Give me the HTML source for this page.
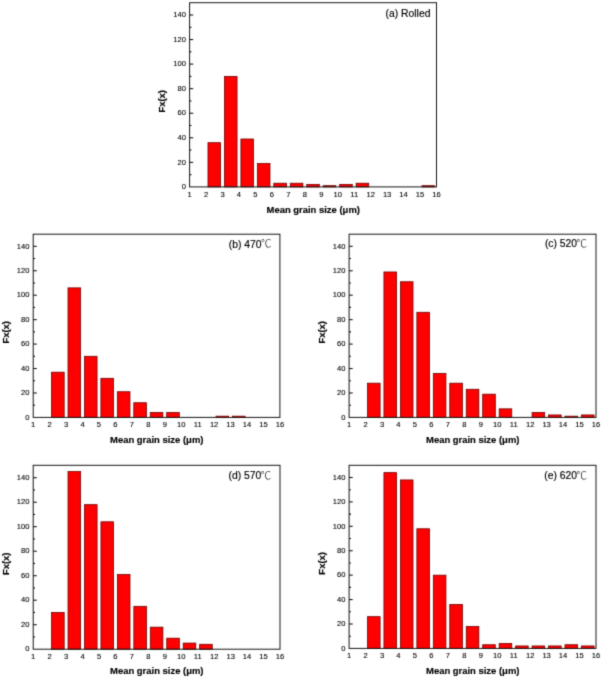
<!DOCTYPE html>
<html><head><meta charset="utf-8"><title>Grain size distributions</title>
<style>
html,body{margin:0;padding:0;background:#fff;}
svg{display:block;}
text{font-family:"Liberation Sans","Noto Sans CJK SC",sans-serif;fill:#000000;}
.t{font-size:7.6px;stroke:#000;stroke-width:0.1px;}
.b{font-size:9.45px;font-weight:bold;stroke:#000;stroke-width:0.15px;}
.l{font-size:10.35px;stroke:#000;stroke-width:0.16px;}
.c{font-family:"Noto Sans CJK SC",sans-serif;font-weight:300;font-size:10.5px;fill:#000;stroke:none;}
</style></head><body>
<svg width="602" height="679" viewBox="0 0 602 679">
<defs><filter id="soft" x="0" y="0" width="602" height="679" filterUnits="userSpaceOnUse" color-interpolation-filters="sRGB"><feConvolveMatrix order="3" kernelMatrix="1 5 1 5 25 5 1 5 1" divisor="49" edgeMode="duplicate" preserveAlpha="true"/></filter></defs>
<rect width="602" height="679" fill="#ffffff"/>
<g filter="url(#soft)">
<rect width="602" height="679" fill="#ffffff"/>
<g><rect x="207.99" y="142.69" width="12.60" height="44.21" fill="#ff0000" stroke="#700000" stroke-width="0.8"/>
<rect x="224.45" y="76.38" width="12.60" height="110.52" fill="#ff0000" stroke="#700000" stroke-width="0.8"/>
<rect x="240.91" y="139.01" width="12.60" height="47.89" fill="#ff0000" stroke="#700000" stroke-width="0.8"/>
<rect x="257.37" y="163.57" width="12.60" height="23.33" fill="#ff0000" stroke="#700000" stroke-width="0.8"/>
<rect x="273.83" y="183.22" width="12.60" height="3.68" fill="#ff0000" stroke="#700000" stroke-width="0.8"/>
<rect x="290.29" y="183.22" width="12.60" height="3.68" fill="#ff0000" stroke="#700000" stroke-width="0.8"/>
<rect x="306.75" y="184.44" width="12.60" height="2.46" fill="#ff0000" stroke="#700000" stroke-width="0.8"/>
<rect x="323.21" y="185.67" width="12.60" height="1.23" fill="#ff0000" stroke="#700000" stroke-width="0.8"/>
<rect x="339.67" y="184.44" width="12.60" height="2.46" fill="#ff0000" stroke="#700000" stroke-width="0.8"/>
<rect x="356.13" y="183.22" width="12.60" height="3.68" fill="#ff0000" stroke="#700000" stroke-width="0.8"/>
<rect x="421.97" y="185.67" width="12.60" height="1.23" fill="#ff0000" stroke="#700000" stroke-width="0.8"/>
<rect x="189.60" y="2.70" width="246.90" height="184.20" fill="none" stroke="#161616" stroke-width="1"/>
<line x1="189.60" y1="174.62" x2="191.50" y2="174.62" stroke="#161616" stroke-width="1.1"/>
<line x1="189.60" y1="162.34" x2="193.20" y2="162.34" stroke="#161616" stroke-width="1.1"/>
<line x1="189.60" y1="150.06" x2="191.50" y2="150.06" stroke="#161616" stroke-width="1.1"/>
<line x1="189.60" y1="137.78" x2="193.20" y2="137.78" stroke="#161616" stroke-width="1.1"/>
<line x1="189.60" y1="125.50" x2="191.50" y2="125.50" stroke="#161616" stroke-width="1.1"/>
<line x1="189.60" y1="113.22" x2="193.20" y2="113.22" stroke="#161616" stroke-width="1.1"/>
<line x1="189.60" y1="100.94" x2="191.50" y2="100.94" stroke="#161616" stroke-width="1.1"/>
<line x1="189.60" y1="88.66" x2="193.20" y2="88.66" stroke="#161616" stroke-width="1.1"/>
<line x1="189.60" y1="76.38" x2="191.50" y2="76.38" stroke="#161616" stroke-width="1.1"/>
<line x1="189.60" y1="64.10" x2="193.20" y2="64.10" stroke="#161616" stroke-width="1.1"/>
<line x1="189.60" y1="51.82" x2="191.50" y2="51.82" stroke="#161616" stroke-width="1.1"/>
<line x1="189.60" y1="39.54" x2="193.20" y2="39.54" stroke="#161616" stroke-width="1.1"/>
<line x1="189.60" y1="27.26" x2="191.50" y2="27.26" stroke="#161616" stroke-width="1.1"/>
<line x1="189.60" y1="14.98" x2="193.20" y2="14.98" stroke="#161616" stroke-width="1.1"/>
<text x="185.90" y="189.10" text-anchor="end" class="t">0</text>
<text x="185.90" y="164.54" text-anchor="end" class="t">20</text>
<text x="185.90" y="139.98" text-anchor="end" class="t">40</text>
<text x="185.90" y="115.42" text-anchor="end" class="t">60</text>
<text x="185.90" y="90.86" text-anchor="end" class="t">80</text>
<text x="185.90" y="66.30" text-anchor="end" class="t">100</text>
<text x="185.90" y="41.74" text-anchor="end" class="t">120</text>
<text x="185.90" y="17.18" text-anchor="end" class="t">140</text>
<text x="189.60" y="196.80" text-anchor="middle" class="t">1</text>
<text x="206.06" y="196.80" text-anchor="middle" class="t">2</text>
<text x="222.52" y="196.80" text-anchor="middle" class="t">3</text>
<text x="238.98" y="196.80" text-anchor="middle" class="t">4</text>
<text x="255.44" y="196.80" text-anchor="middle" class="t">5</text>
<text x="271.90" y="196.80" text-anchor="middle" class="t">6</text>
<text x="288.36" y="196.80" text-anchor="middle" class="t">7</text>
<text x="304.82" y="196.80" text-anchor="middle" class="t">8</text>
<text x="321.28" y="196.80" text-anchor="middle" class="t">9</text>
<text x="337.74" y="196.80" text-anchor="middle" class="t">10</text>
<text x="354.20" y="196.80" text-anchor="middle" class="t">11</text>
<text x="370.66" y="196.80" text-anchor="middle" class="t">12</text>
<text x="387.12" y="196.80" text-anchor="middle" class="t">13</text>
<text x="403.58" y="196.80" text-anchor="middle" class="t">14</text>
<text x="420.04" y="196.80" text-anchor="middle" class="t">15</text>
<text x="436.50" y="196.80" text-anchor="middle" class="t">16</text>
<text x="313.25" y="212.50" text-anchor="middle" class="b">Mean grain size (μm)</text>
<text transform="translate(165.30,101.30) rotate(-90)" text-anchor="middle" class="b">Fx(x)</text>
<text x="430.40" y="16.90" text-anchor="end" class="l">(a) Rolled</text></g>
<g><rect x="51.57" y="372.19" width="12.60" height="45.21" fill="#ff0000" stroke="#700000" stroke-width="0.8"/>
<rect x="68.02" y="287.87" width="12.60" height="129.53" fill="#ff0000" stroke="#700000" stroke-width="0.8"/>
<rect x="84.46" y="356.30" width="12.60" height="61.10" fill="#ff0000" stroke="#700000" stroke-width="0.8"/>
<rect x="100.91" y="378.30" width="12.60" height="39.10" fill="#ff0000" stroke="#700000" stroke-width="0.8"/>
<rect x="117.36" y="391.74" width="12.60" height="25.66" fill="#ff0000" stroke="#700000" stroke-width="0.8"/>
<rect x="133.80" y="402.74" width="12.60" height="14.66" fill="#ff0000" stroke="#700000" stroke-width="0.8"/>
<rect x="150.25" y="412.51" width="12.60" height="4.89" fill="#ff0000" stroke="#700000" stroke-width="0.8"/>
<rect x="166.70" y="412.51" width="12.60" height="4.89" fill="#ff0000" stroke="#700000" stroke-width="0.8"/>
<rect x="216.04" y="416.18" width="12.60" height="1.22" fill="#ff0000" stroke="#700000" stroke-width="0.8"/>
<rect x="232.48" y="416.18" width="12.60" height="1.22" fill="#ff0000" stroke="#700000" stroke-width="0.8"/>
<rect x="33.20" y="234.20" width="246.70" height="183.20" fill="none" stroke="#161616" stroke-width="1"/>
<line x1="33.20" y1="405.18" x2="35.10" y2="405.18" stroke="#161616" stroke-width="1.1"/>
<line x1="33.20" y1="392.96" x2="36.80" y2="392.96" stroke="#161616" stroke-width="1.1"/>
<line x1="33.20" y1="380.74" x2="35.10" y2="380.74" stroke="#161616" stroke-width="1.1"/>
<line x1="33.20" y1="368.52" x2="36.80" y2="368.52" stroke="#161616" stroke-width="1.1"/>
<line x1="33.20" y1="356.30" x2="35.10" y2="356.30" stroke="#161616" stroke-width="1.1"/>
<line x1="33.20" y1="344.08" x2="36.80" y2="344.08" stroke="#161616" stroke-width="1.1"/>
<line x1="33.20" y1="331.86" x2="35.10" y2="331.86" stroke="#161616" stroke-width="1.1"/>
<line x1="33.20" y1="319.64" x2="36.80" y2="319.64" stroke="#161616" stroke-width="1.1"/>
<line x1="33.20" y1="307.42" x2="35.10" y2="307.42" stroke="#161616" stroke-width="1.1"/>
<line x1="33.20" y1="295.20" x2="36.80" y2="295.20" stroke="#161616" stroke-width="1.1"/>
<line x1="33.20" y1="282.98" x2="35.10" y2="282.98" stroke="#161616" stroke-width="1.1"/>
<line x1="33.20" y1="270.76" x2="36.80" y2="270.76" stroke="#161616" stroke-width="1.1"/>
<line x1="33.20" y1="258.54" x2="35.10" y2="258.54" stroke="#161616" stroke-width="1.1"/>
<line x1="33.20" y1="246.32" x2="36.80" y2="246.32" stroke="#161616" stroke-width="1.1"/>
<text x="29.50" y="419.60" text-anchor="end" class="t">0</text>
<text x="29.50" y="395.16" text-anchor="end" class="t">20</text>
<text x="29.50" y="370.72" text-anchor="end" class="t">40</text>
<text x="29.50" y="346.28" text-anchor="end" class="t">60</text>
<text x="29.50" y="321.84" text-anchor="end" class="t">80</text>
<text x="29.50" y="297.40" text-anchor="end" class="t">100</text>
<text x="29.50" y="272.96" text-anchor="end" class="t">120</text>
<text x="29.50" y="248.52" text-anchor="end" class="t">140</text>
<text x="33.20" y="427.30" text-anchor="middle" class="t">1</text>
<text x="49.65" y="427.30" text-anchor="middle" class="t">2</text>
<text x="66.09" y="427.30" text-anchor="middle" class="t">3</text>
<text x="82.54" y="427.30" text-anchor="middle" class="t">4</text>
<text x="98.99" y="427.30" text-anchor="middle" class="t">5</text>
<text x="115.43" y="427.30" text-anchor="middle" class="t">6</text>
<text x="131.88" y="427.30" text-anchor="middle" class="t">7</text>
<text x="148.33" y="427.30" text-anchor="middle" class="t">8</text>
<text x="164.77" y="427.30" text-anchor="middle" class="t">9</text>
<text x="181.22" y="427.30" text-anchor="middle" class="t">10</text>
<text x="197.67" y="427.30" text-anchor="middle" class="t">11</text>
<text x="214.11" y="427.30" text-anchor="middle" class="t">12</text>
<text x="230.56" y="427.30" text-anchor="middle" class="t">13</text>
<text x="247.01" y="427.30" text-anchor="middle" class="t">14</text>
<text x="263.45" y="427.30" text-anchor="middle" class="t">15</text>
<text x="279.90" y="427.30" text-anchor="middle" class="t">16</text>
<text x="156.75" y="443.00" text-anchor="middle" class="b">Mean grain size (μm)</text>
<text transform="translate(8.90,332.30) rotate(-90)" text-anchor="middle" class="b">Fx(x)</text>
<text x="271.50" y="247.50" text-anchor="end" class="l">(b) 470<tspan class="c" dx="-0.5" dy="-0.3">℃</tspan></text></g>
<g><rect x="367.49" y="383.18" width="12.60" height="34.22" fill="#ff0000" stroke="#700000" stroke-width="0.8"/>
<rect x="383.95" y="271.98" width="12.60" height="145.42" fill="#ff0000" stroke="#700000" stroke-width="0.8"/>
<rect x="400.41" y="281.76" width="12.60" height="135.64" fill="#ff0000" stroke="#700000" stroke-width="0.8"/>
<rect x="416.87" y="312.31" width="12.60" height="105.09" fill="#ff0000" stroke="#700000" stroke-width="0.8"/>
<rect x="433.33" y="373.41" width="12.60" height="43.99" fill="#ff0000" stroke="#700000" stroke-width="0.8"/>
<rect x="449.79" y="383.18" width="12.60" height="34.22" fill="#ff0000" stroke="#700000" stroke-width="0.8"/>
<rect x="466.25" y="389.29" width="12.60" height="28.11" fill="#ff0000" stroke="#700000" stroke-width="0.8"/>
<rect x="482.71" y="394.18" width="12.60" height="23.22" fill="#ff0000" stroke="#700000" stroke-width="0.8"/>
<rect x="499.17" y="408.85" width="12.60" height="8.55" fill="#ff0000" stroke="#700000" stroke-width="0.8"/>
<rect x="532.09" y="412.51" width="12.60" height="4.89" fill="#ff0000" stroke="#700000" stroke-width="0.8"/>
<rect x="548.55" y="414.96" width="12.60" height="2.44" fill="#ff0000" stroke="#700000" stroke-width="0.8"/>
<rect x="565.01" y="416.18" width="12.60" height="1.22" fill="#ff0000" stroke="#700000" stroke-width="0.8"/>
<rect x="581.47" y="414.96" width="12.60" height="2.44" fill="#ff0000" stroke="#700000" stroke-width="0.8"/>
<rect x="349.10" y="234.20" width="246.90" height="183.20" fill="none" stroke="#161616" stroke-width="1"/>
<line x1="349.10" y1="405.18" x2="351.00" y2="405.18" stroke="#161616" stroke-width="1.1"/>
<line x1="349.10" y1="392.96" x2="352.70" y2="392.96" stroke="#161616" stroke-width="1.1"/>
<line x1="349.10" y1="380.74" x2="351.00" y2="380.74" stroke="#161616" stroke-width="1.1"/>
<line x1="349.10" y1="368.52" x2="352.70" y2="368.52" stroke="#161616" stroke-width="1.1"/>
<line x1="349.10" y1="356.30" x2="351.00" y2="356.30" stroke="#161616" stroke-width="1.1"/>
<line x1="349.10" y1="344.08" x2="352.70" y2="344.08" stroke="#161616" stroke-width="1.1"/>
<line x1="349.10" y1="331.86" x2="351.00" y2="331.86" stroke="#161616" stroke-width="1.1"/>
<line x1="349.10" y1="319.64" x2="352.70" y2="319.64" stroke="#161616" stroke-width="1.1"/>
<line x1="349.10" y1="307.42" x2="351.00" y2="307.42" stroke="#161616" stroke-width="1.1"/>
<line x1="349.10" y1="295.20" x2="352.70" y2="295.20" stroke="#161616" stroke-width="1.1"/>
<line x1="349.10" y1="282.98" x2="351.00" y2="282.98" stroke="#161616" stroke-width="1.1"/>
<line x1="349.10" y1="270.76" x2="352.70" y2="270.76" stroke="#161616" stroke-width="1.1"/>
<line x1="349.10" y1="258.54" x2="351.00" y2="258.54" stroke="#161616" stroke-width="1.1"/>
<line x1="349.10" y1="246.32" x2="352.70" y2="246.32" stroke="#161616" stroke-width="1.1"/>
<text x="345.40" y="419.60" text-anchor="end" class="t">0</text>
<text x="345.40" y="395.16" text-anchor="end" class="t">20</text>
<text x="345.40" y="370.72" text-anchor="end" class="t">40</text>
<text x="345.40" y="346.28" text-anchor="end" class="t">60</text>
<text x="345.40" y="321.84" text-anchor="end" class="t">80</text>
<text x="345.40" y="297.40" text-anchor="end" class="t">100</text>
<text x="345.40" y="272.96" text-anchor="end" class="t">120</text>
<text x="345.40" y="248.52" text-anchor="end" class="t">140</text>
<text x="349.10" y="427.30" text-anchor="middle" class="t">1</text>
<text x="365.56" y="427.30" text-anchor="middle" class="t">2</text>
<text x="382.02" y="427.30" text-anchor="middle" class="t">3</text>
<text x="398.48" y="427.30" text-anchor="middle" class="t">4</text>
<text x="414.94" y="427.30" text-anchor="middle" class="t">5</text>
<text x="431.40" y="427.30" text-anchor="middle" class="t">6</text>
<text x="447.86" y="427.30" text-anchor="middle" class="t">7</text>
<text x="464.32" y="427.30" text-anchor="middle" class="t">8</text>
<text x="480.78" y="427.30" text-anchor="middle" class="t">9</text>
<text x="497.24" y="427.30" text-anchor="middle" class="t">10</text>
<text x="513.70" y="427.30" text-anchor="middle" class="t">11</text>
<text x="530.16" y="427.30" text-anchor="middle" class="t">12</text>
<text x="546.62" y="427.30" text-anchor="middle" class="t">13</text>
<text x="563.08" y="427.30" text-anchor="middle" class="t">14</text>
<text x="579.54" y="427.30" text-anchor="middle" class="t">15</text>
<text x="596.00" y="427.30" text-anchor="middle" class="t">16</text>
<text x="472.75" y="443.00" text-anchor="middle" class="b">Mean grain size (μm)</text>
<text transform="translate(324.80,332.30) rotate(-90)" text-anchor="middle" class="b">Fx(x)</text>
<text x="587.10" y="247.30" text-anchor="end" class="l">(c) 520<tspan class="c" dx="-0.5" dy="-0.3">℃</tspan></text></g>
<g><rect x="51.58" y="612.45" width="12.60" height="36.75" fill="#ff0000" stroke="#700000" stroke-width="0.8"/>
<rect x="68.03" y="471.58" width="12.60" height="177.62" fill="#ff0000" stroke="#700000" stroke-width="0.8"/>
<rect x="84.49" y="504.65" width="12.60" height="144.55" fill="#ff0000" stroke="#700000" stroke-width="0.8"/>
<rect x="100.94" y="521.80" width="12.60" height="127.40" fill="#ff0000" stroke="#700000" stroke-width="0.8"/>
<rect x="117.39" y="574.48" width="12.60" height="74.73" fill="#ff0000" stroke="#700000" stroke-width="0.8"/>
<rect x="133.85" y="606.33" width="12.60" height="42.88" fill="#ff0000" stroke="#700000" stroke-width="0.8"/>
<rect x="150.30" y="627.15" width="12.60" height="22.05" fill="#ff0000" stroke="#700000" stroke-width="0.8"/>
<rect x="166.75" y="638.18" width="12.60" height="11.03" fill="#ff0000" stroke="#700000" stroke-width="0.8"/>
<rect x="183.21" y="643.08" width="12.60" height="6.12" fill="#ff0000" stroke="#700000" stroke-width="0.8"/>
<rect x="199.66" y="644.30" width="12.60" height="4.90" fill="#ff0000" stroke="#700000" stroke-width="0.8"/>
<rect x="33.20" y="465.30" width="246.80" height="183.90" fill="none" stroke="#161616" stroke-width="1"/>
<line x1="33.20" y1="636.95" x2="35.10" y2="636.95" stroke="#161616" stroke-width="1.1"/>
<line x1="33.20" y1="624.70" x2="36.80" y2="624.70" stroke="#161616" stroke-width="1.1"/>
<line x1="33.20" y1="612.45" x2="35.10" y2="612.45" stroke="#161616" stroke-width="1.1"/>
<line x1="33.20" y1="600.20" x2="36.80" y2="600.20" stroke="#161616" stroke-width="1.1"/>
<line x1="33.20" y1="587.95" x2="35.10" y2="587.95" stroke="#161616" stroke-width="1.1"/>
<line x1="33.20" y1="575.70" x2="36.80" y2="575.70" stroke="#161616" stroke-width="1.1"/>
<line x1="33.20" y1="563.45" x2="35.10" y2="563.45" stroke="#161616" stroke-width="1.1"/>
<line x1="33.20" y1="551.20" x2="36.80" y2="551.20" stroke="#161616" stroke-width="1.1"/>
<line x1="33.20" y1="538.95" x2="35.10" y2="538.95" stroke="#161616" stroke-width="1.1"/>
<line x1="33.20" y1="526.70" x2="36.80" y2="526.70" stroke="#161616" stroke-width="1.1"/>
<line x1="33.20" y1="514.45" x2="35.10" y2="514.45" stroke="#161616" stroke-width="1.1"/>
<line x1="33.20" y1="502.20" x2="36.80" y2="502.20" stroke="#161616" stroke-width="1.1"/>
<line x1="33.20" y1="489.95" x2="35.10" y2="489.95" stroke="#161616" stroke-width="1.1"/>
<line x1="33.20" y1="477.70" x2="36.80" y2="477.70" stroke="#161616" stroke-width="1.1"/>
<text x="29.50" y="651.40" text-anchor="end" class="t">0</text>
<text x="29.50" y="626.90" text-anchor="end" class="t">20</text>
<text x="29.50" y="602.40" text-anchor="end" class="t">40</text>
<text x="29.50" y="577.90" text-anchor="end" class="t">60</text>
<text x="29.50" y="553.40" text-anchor="end" class="t">80</text>
<text x="29.50" y="528.90" text-anchor="end" class="t">100</text>
<text x="29.50" y="504.40" text-anchor="end" class="t">120</text>
<text x="29.50" y="479.90" text-anchor="end" class="t">140</text>
<text x="33.20" y="659.10" text-anchor="middle" class="t">1</text>
<text x="49.65" y="659.10" text-anchor="middle" class="t">2</text>
<text x="66.11" y="659.10" text-anchor="middle" class="t">3</text>
<text x="82.56" y="659.10" text-anchor="middle" class="t">4</text>
<text x="99.01" y="659.10" text-anchor="middle" class="t">5</text>
<text x="115.47" y="659.10" text-anchor="middle" class="t">6</text>
<text x="131.92" y="659.10" text-anchor="middle" class="t">7</text>
<text x="148.37" y="659.10" text-anchor="middle" class="t">8</text>
<text x="164.83" y="659.10" text-anchor="middle" class="t">9</text>
<text x="181.28" y="659.10" text-anchor="middle" class="t">10</text>
<text x="197.73" y="659.10" text-anchor="middle" class="t">11</text>
<text x="214.19" y="659.10" text-anchor="middle" class="t">12</text>
<text x="230.64" y="659.10" text-anchor="middle" class="t">13</text>
<text x="247.09" y="659.10" text-anchor="middle" class="t">14</text>
<text x="263.55" y="659.10" text-anchor="middle" class="t">15</text>
<text x="280.00" y="659.10" text-anchor="middle" class="t">16</text>
<text x="156.80" y="674.30" text-anchor="middle" class="b">Mean grain size (μm)</text>
<text transform="translate(8.90,563.75) rotate(-90)" text-anchor="middle" class="b">Fx(x)</text>
<text x="271.30" y="479.00" text-anchor="end" class="l">(d) 570<tspan class="c" dx="-0.5" dy="-0.3">℃</tspan></text></g>
<g><rect x="367.49" y="616.66" width="12.60" height="31.74" fill="#ff0000" stroke="#700000" stroke-width="0.8"/>
<rect x="383.95" y="472.62" width="12.60" height="175.78" fill="#ff0000" stroke="#700000" stroke-width="0.8"/>
<rect x="400.41" y="479.94" width="12.60" height="168.46" fill="#ff0000" stroke="#700000" stroke-width="0.8"/>
<rect x="416.87" y="528.77" width="12.60" height="119.63" fill="#ff0000" stroke="#700000" stroke-width="0.8"/>
<rect x="433.33" y="575.16" width="12.60" height="73.24" fill="#ff0000" stroke="#700000" stroke-width="0.8"/>
<rect x="449.79" y="604.45" width="12.60" height="43.95" fill="#ff0000" stroke="#700000" stroke-width="0.8"/>
<rect x="466.25" y="626.43" width="12.60" height="21.97" fill="#ff0000" stroke="#700000" stroke-width="0.8"/>
<rect x="482.71" y="644.74" width="12.60" height="3.66" fill="#ff0000" stroke="#700000" stroke-width="0.8"/>
<rect x="499.17" y="643.52" width="12.60" height="4.88" fill="#ff0000" stroke="#700000" stroke-width="0.8"/>
<rect x="515.63" y="645.96" width="12.60" height="2.44" fill="#ff0000" stroke="#700000" stroke-width="0.8"/>
<rect x="532.09" y="645.96" width="12.60" height="2.44" fill="#ff0000" stroke="#700000" stroke-width="0.8"/>
<rect x="548.55" y="645.96" width="12.60" height="2.44" fill="#ff0000" stroke="#700000" stroke-width="0.8"/>
<rect x="565.01" y="644.74" width="12.60" height="3.66" fill="#ff0000" stroke="#700000" stroke-width="0.8"/>
<rect x="581.47" y="645.96" width="12.60" height="2.44" fill="#ff0000" stroke="#700000" stroke-width="0.8"/>
<rect x="349.10" y="465.30" width="246.90" height="183.10" fill="none" stroke="#161616" stroke-width="1"/>
<line x1="349.10" y1="636.19" x2="351.00" y2="636.19" stroke="#161616" stroke-width="1.1"/>
<line x1="349.10" y1="623.99" x2="352.70" y2="623.99" stroke="#161616" stroke-width="1.1"/>
<line x1="349.10" y1="611.78" x2="351.00" y2="611.78" stroke="#161616" stroke-width="1.1"/>
<line x1="349.10" y1="599.57" x2="352.70" y2="599.57" stroke="#161616" stroke-width="1.1"/>
<line x1="349.10" y1="587.37" x2="351.00" y2="587.37" stroke="#161616" stroke-width="1.1"/>
<line x1="349.10" y1="575.16" x2="352.70" y2="575.16" stroke="#161616" stroke-width="1.1"/>
<line x1="349.10" y1="562.95" x2="351.00" y2="562.95" stroke="#161616" stroke-width="1.1"/>
<line x1="349.10" y1="550.74" x2="352.70" y2="550.74" stroke="#161616" stroke-width="1.1"/>
<line x1="349.10" y1="538.54" x2="351.00" y2="538.54" stroke="#161616" stroke-width="1.1"/>
<line x1="349.10" y1="526.33" x2="352.70" y2="526.33" stroke="#161616" stroke-width="1.1"/>
<line x1="349.10" y1="514.12" x2="351.00" y2="514.12" stroke="#161616" stroke-width="1.1"/>
<line x1="349.10" y1="501.92" x2="352.70" y2="501.92" stroke="#161616" stroke-width="1.1"/>
<line x1="349.10" y1="489.71" x2="351.00" y2="489.71" stroke="#161616" stroke-width="1.1"/>
<line x1="349.10" y1="477.50" x2="352.70" y2="477.50" stroke="#161616" stroke-width="1.1"/>
<text x="345.40" y="650.60" text-anchor="end" class="t">0</text>
<text x="345.40" y="626.19" text-anchor="end" class="t">20</text>
<text x="345.40" y="601.77" text-anchor="end" class="t">40</text>
<text x="345.40" y="577.36" text-anchor="end" class="t">60</text>
<text x="345.40" y="552.94" text-anchor="end" class="t">80</text>
<text x="345.40" y="528.53" text-anchor="end" class="t">100</text>
<text x="345.40" y="504.12" text-anchor="end" class="t">120</text>
<text x="345.40" y="479.70" text-anchor="end" class="t">140</text>
<text x="349.10" y="658.30" text-anchor="middle" class="t">1</text>
<text x="365.56" y="658.30" text-anchor="middle" class="t">2</text>
<text x="382.02" y="658.30" text-anchor="middle" class="t">3</text>
<text x="398.48" y="658.30" text-anchor="middle" class="t">4</text>
<text x="414.94" y="658.30" text-anchor="middle" class="t">5</text>
<text x="431.40" y="658.30" text-anchor="middle" class="t">6</text>
<text x="447.86" y="658.30" text-anchor="middle" class="t">7</text>
<text x="464.32" y="658.30" text-anchor="middle" class="t">8</text>
<text x="480.78" y="658.30" text-anchor="middle" class="t">9</text>
<text x="497.24" y="658.30" text-anchor="middle" class="t">10</text>
<text x="513.70" y="658.30" text-anchor="middle" class="t">11</text>
<text x="530.16" y="658.30" text-anchor="middle" class="t">12</text>
<text x="546.62" y="658.30" text-anchor="middle" class="t">13</text>
<text x="563.08" y="658.30" text-anchor="middle" class="t">14</text>
<text x="579.54" y="658.30" text-anchor="middle" class="t">15</text>
<text x="596.00" y="658.30" text-anchor="middle" class="t">16</text>
<text x="472.75" y="674.00" text-anchor="middle" class="b">Mean grain size (μm)</text>
<text transform="translate(324.80,563.35) rotate(-90)" text-anchor="middle" class="b">Fx(x)</text>
<text x="587.10" y="478.90" text-anchor="end" class="l">(e) 620<tspan class="c" dx="-0.5" dy="-0.3">℃</tspan></text></g>
</g>
</svg>
</body></html>
